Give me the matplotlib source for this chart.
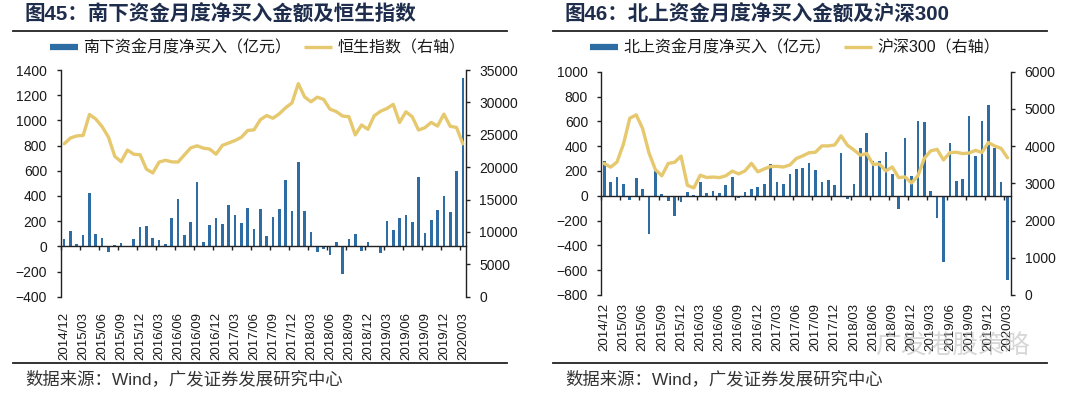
import numpy as np
import pandas as pd
import matplotlib
matplotlib.use("Agg")
import matplotlib.pyplot as plt
from matplotlib.lines import Line2D

plt.rcParams['font.family'] = ['Liberation Sans', 'Noto Sans CJK SC', 'DejaVu Sans']

# 月份 2014/12 - 2020/03
months = pd.period_range('2014-12', '2020-03', freq='M').strftime('%Y/%m').tolist()
tick_labels = months[::3]

# 南下资金月度净买入（亿元）
south_flow = [61, 122, 15, 87, 420, 98, 69, -47, 13, 24,
              2, 58, 153, 158, 69, 53, 15, 223, 377, 87,
              196, 510, 35, 169, 223, 175, 328, 252, 188, 308,
              140, 295, 82, 229, 300, 523, 279, 667, 283, 113,
              -46, -19, -66, 34, -219, 61, 95, -34, 34, -6,
              -53, 201, 132, 223, 250, 191, 553, 107, 207, 288,
              398, 274, 595, 1335]
# 恒生指数
hsi = [23605, 24507, 24823, 24901, 28133, 27424, 26250, 24636, 21670, 20846,
       22640, 21996, 21914, 19683, 19112, 20777, 21067, 20815, 20794, 21891,
       22977, 23297, 22935, 22790, 22001, 23361, 23741, 24112, 24615, 25661,
       25765, 27324, 27970, 27554, 28246, 29177, 29919, 32887, 30845, 30093,
       30808, 30469, 28955, 28583, 27889, 27789, 24980, 26507, 25846, 27942,
       28633, 29051, 29699, 26901, 28543, 27778, 25725, 26092, 26907, 26346,
       28190, 26313, 26130, 23603]

# 北上资金月度净买入（亿元）
north_flow = [277, 113, 153, 97, -35, 142, 54, -312, 202, 13,
              -43, -164, -54, 32, 3, 108, 22, 40, 24, 86,
              148, -19, 32, 51, 67, 97, 255, 108, 97, 175,
              215, 222, 266, 204, 113, 126, 86, 347, -27, 94,
              382, 505, 282, 282, 355, 175, -108, 468, 161, 605,
              597, 40, -183, -532, 422, 118, 132, 645, 323, 605,
              731, 382, 113, -677]
# 沪深300
csi300 = [3533.7, 3434.4, 3572.8, 4051.2, 4749.9, 4840.8, 4473.0, 3816.7, 3366.5, 3203.0,
          3534.1, 3566.4, 3731.0, 2946.1, 2877.5, 3218.1, 3156.8, 3169.6, 3153.9, 3203.9,
          3327.8, 3253.3, 3336.3, 3538.0, 3310.1, 3388.0, 3452.8, 3456.1, 3439.8, 3492.9,
          3666.8, 3737.9, 3822.1, 3836.5, 4006.7, 4006.1, 4030.9, 4275.9, 4023.6, 3898.5,
          3756.9, 3802.4, 3511.0, 3517.7, 3334.5, 3438.9, 3153.8, 3172.7, 3010.7, 3201.6,
          3669.4, 3872.3, 3913.2, 3629.8, 3825.6, 3835.4, 3799.6, 3814.5, 3886.8, 3828.7,
          4096.6, 4003.9, 3940.1, 3686.2]

BAR_COLOR = '#2E6DA4'
LINE_COLOR = '#E6C86E'
TITLE_COLOR = '#1F2D4D'
TEXT_COLOR = '#1a1a1a'

W, H = 1080, 395
fig = plt.figure(figsize=(W / 100, H / 100), dpi=100)


def px_rect(x0, y0, x1, y1):
    """像素坐标 -> figure 坐标"""
    return [x0 / W, 1 - y1 / H, (x1 - x0) / W, (y1 - y0) / H]


def draw_panel(rect, flow, index, ylim, ystep, ylim2, ystep2, lpad, rpad, xpad):
    x = np.arange(len(flow))
    ax = fig.add_axes(rect)
    ax.bar(x, flow, width=0.42, color=BAR_COLOR, zorder=2)
    ax.set_xlim(-0.5, len(flow) - 0.5)
    ax.set_ylim(*ylim)
    ax.set_yticks(np.arange(ylim[0], ylim[1] + 1, ystep))
    ax.spines['top'].set_visible(False)
    ax.spines['right'].set_visible(False)
    ax.spines['bottom'].set_position(('data', 0))
    for s in ['left', 'bottom']:
        ax.spines[s].set_linewidth(1.0)
        ax.spines[s].set_color('#222222')
    ax.set_xticks(np.arange(-0.5, len(flow) - 1, 3))
    ax.tick_params(axis='x', direction='out', length=3, width=1.0, labelbottom=False, color='#222222')
    ax.tick_params(axis='y', direction='out', length=3, width=1.0, pad=lpad, labelsize=10,
                   labelcolor=TEXT_COLOR, color='#222222')

    # x 轴标签放在底部
    sec = ax.secondary_xaxis('bottom')
    sec.set_xticks(x[::3], labels=tick_labels, rotation=90)
    sec.spines['bottom'].set_visible(False)
    sec.tick_params(length=0, pad=xpad, labelsize=9.5, labelcolor=TEXT_COLOR)

    ax2 = ax.twinx()
    ax2.plot(x, index, color=LINE_COLOR, lw=2.4, solid_joinstyle='round', solid_capstyle='round')
    ax2.set_ylim(*ylim2)
    ax2.set_yticks(np.arange(ylim2[0], ylim2[1] + 1, ystep2))
    for s in ['top', 'left', 'bottom']:
        ax2.spines[s].set_visible(False)
    ax2.spines['right'].set_linewidth(1.0)
    ax2.spines['right'].set_color('#222222')
    ax2.tick_params(axis='y', direction='out', length=3, width=1.0, pad=rpad, labelsize=10,
                    labelcolor=TEXT_COLOR, color='#222222')
    return ax, ax2


def draw_frame(x0, title, bar_label, line_label):
    fig.text((x0 + 25) / W, 1 - 15 / H, title, fontsize=14.8, fontweight='bold',
             color=TITLE_COLOR, ha='left', va='center')
    fig.add_artist(Line2D([(x0 + 13) / W, (x0 + 507) / W], [1 - 31 / H] * 2,
                          color='#222222', lw=1.3, transform=fig.transFigure))
    fig.add_artist(Line2D([(x0 + 13) / W, (x0 + 507) / W], [1 - 363 / H] * 2,
                          color='#222222', lw=1.3, transform=fig.transFigure))
    handles = [Line2D([], [], color=BAR_COLOR, lw=4.5, solid_capstyle='butt'),
               Line2D([], [], color=LINE_COLOR, lw=2.4, solid_capstyle='butt')]
    fig.legend(handles, [bar_label, line_label], loc='center left',
               bbox_to_anchor=((x0 + 50) / W, 1 - 48 / H), bbox_transform=fig.transFigure,
               ncol=2, frameon=False, fontsize=11.5, handlelength=1.75, handletextpad=0.35,
               columnspacing=0.8, borderpad=0, borderaxespad=0, labelcolor=TEXT_COLOR)
    fig.text((x0 + 25) / W, 1 - 379 / H, '数据来源：Wind，广发证券发展研究中心',
             fontsize=12.5, color='#333333', ha='left', va='center')


# 图45
draw_panel(px_rect(61, 70, 466, 296.7), south_flow, hsi,
           (-400, 1400), 200, (0, 35000), 5000, lpad=7, rpad=6.5, xpad=11)
draw_frame(0, '图45：南下资金月度净买入金额及恒生指数',
           '南下资金月度净买入（亿元）', '恒生指数（右轴）')

# 图46
draw_panel(px_rect(601, 71.7, 1010.7, 295), north_flow, csi300,
           (-800, 1000), 200, (0, 6000), 1000, lpad=6.3, rpad=7, xpad=5.5)
draw_frame(540, '图46：北上资金月度净买入金额及沪深300',
           '北上资金月度净买入（亿元）', '沪深300（右轴）')

# 水印
fig.text(1030 / W, 1 - 347 / H, '广发港股策略', fontsize=18.5, color='#b0b0b0',
         alpha=0.5, ha='right', va='center')

fig.savefig('out.png', dpi=100, facecolor='white')
